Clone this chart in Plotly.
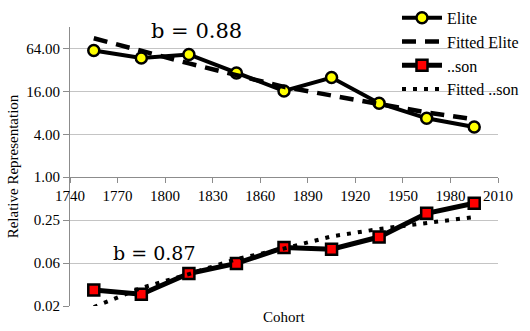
import plotly.graph_objects as go
import math

# Cohorts (birth generation midpoints)
cohorts = [1755, 1785, 1815, 1845, 1875, 1905, 1935, 1965, 1995]

# Relative representation of the elite group and its fitted curve
elite = [60, 47, 52.7, 28.9, 16.2, 25, 10.9, 6.7, 5.08]
fitted_elite = [89, 59, 39.5, 27, 18.5, 14, 10.5, 8.1, 6.5]

# Relative representation of the "..son" surname group and its fitted curve
son = [0.0262, 0.0228, 0.0447, 0.0619, 0.103, 0.0977, 0.145, 0.312, 0.431]
fitted_son = [0.0151, 0.028, 0.0438, 0.071, 0.1, 0.148, 0.188, 0.228, 0.277]

# Axis ticks
x_ticks = [1740, 1770, 1800, 1830, 1860, 1890, 1920, 1950, 1980, 2010]
y_tickvals = [1 / 64, 1 / 16, 0.25, 1, 4, 16, 64]
y_ticktext = ["0.02", "0.06", "0.25", "1.00", "4.00", "16.00", "64.00"]
y_min, y_max = 1 / 64, 128

FONT = "Liberation Serif, DejaVu Serif, serif"
LABEL_FONT = "DejaVu Serif"
AXIS_GREY = "#8c8c8c"
GRID_GREY = "#c4c4c4"

fig = go.Figure()

fig.add_trace(go.Scatter(
    x=cohorts, y=elite, name="Elite", mode="lines+markers",
    line=dict(color="black", width=4),
    marker=dict(symbol="circle", size=11, color="#ffff00",
                line=dict(color="black", width=2.5)),
))
fig.add_trace(go.Scatter(
    x=cohorts, y=fitted_elite, name="Fitted Elite", mode="lines",
    line=dict(color="black", width=4.5, dash="14px,9px"),
))
fig.add_trace(go.Scatter(
    x=cohorts, y=son, name="..son", mode="lines+markers",
    line=dict(color="black", width=5),
    marker=dict(symbol="square", size=11, color="#ff0000",
                line=dict(color="black", width=2.5)),
))
fig.add_trace(go.Scatter(
    x=cohorts, y=fitted_son, name="Fitted ..son", mode="lines",
    line=dict(color="black", width=4, dash="4px,7px"),
))

log_lo, log_hi = math.log10(y_min), math.log10(y_max)
x_axis_pos = (0 - log_lo) / (log_hi - log_lo)  # where y = 1.00 sits

fig.update_layout(
    width=530, height=331,
    margin=dict(l=70, r=32, t=26.5, b=25.3, autoexpand=False),
    paper_bgcolor="white", plot_bgcolor="white",
    font=dict(family=FONT, size=15, color="black"),
    showlegend=True,
    legend=dict(
        x=0.764, y=1.094, xanchor="left", yanchor="top",
        bgcolor="rgba(0,0,0,0)", font=dict(family="Liberation Serif", size=16),
        itemwidth=40, tracegroupgap=0,
    ),
    xaxis=dict(
        range=[1740, 2010], tickvals=x_ticks, ticks="outside", ticklen=5,
        tickcolor=AXIS_GREY, showline=True, linecolor=AXIS_GREY, linewidth=1,
        showgrid=False, zeroline=False, anchor="free", position=x_axis_pos,
        tickfont=dict(family=FONT, size=15),
    ),
    yaxis=dict(
        type="log", range=[log_lo, log_hi], tickvals=y_tickvals,
        ticktext=y_ticktext, ticks="outside", ticklen=6, tickcolor=AXIS_GREY,
        showline=True, linecolor=AXIS_GREY, linewidth=1,
        showgrid=True, gridcolor=GRID_GREY, gridwidth=1, zeroline=False,
        tickfont=dict(family=FONT, size=15),
        title=dict(text="Relative Representation", font=dict(family=FONT, size=15),
                   standoff=4),
    ),
    annotations=[
        dict(text="Cohort", xref="paper", yref="paper", x=0.5, y=-0.04,
             xanchor="center", yanchor="middle", showarrow=False,
             font=dict(family=FONT, size=15)),
        dict(text="b = 0.88", xref="x", yref="y", x=1819.5, y=math.log10(113),
             xanchor="center", yanchor="middle", showarrow=False,
             font=dict(family=LABEL_FONT, size=21)),
        dict(text="b = 0.87", xref="x", yref="y", x=1793, y=math.log10(0.0866),
             xanchor="center", yanchor="middle", showarrow=False,
             font=dict(family=LABEL_FONT, size=19)),
    ],
)

fig.write_html("out.html")
